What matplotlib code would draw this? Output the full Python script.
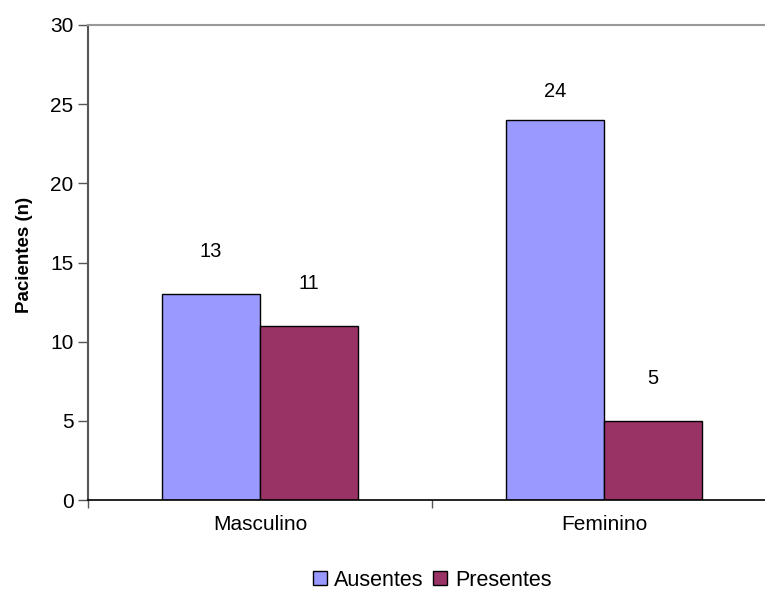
import numpy as np
import matplotlib
matplotlib.use("Agg")
from matplotlib import pyplot as plt

plt.rcParams['font.family'] = ['Liberation Sans', 'DejaVu Sans']

categorias = ['Masculino', 'Feminino']
ausentes = [13, 24]
presentes = [11, 5]
y_ticks = [0, 5, 10, 15, 20, 25, 30]

fig = plt.figure(figsize=(7.65, 5.99), dpi=100)
ax = fig.add_axes([88 / 765, 99 / 599, 688 / 765, 475 / 599])

x = np.arange(len(categorias))
w = 0.285
b1 = ax.bar(x - w / 2, ausentes, w, color='#9999FF', edgecolor='black', lw=1, label='Ausentes')
b2 = ax.bar(x + w / 2, presentes, w, color='#993366', edgecolor='black', lw=1, label='Presentes')

# etiquetas de valor sobre cada barra
for bars, vals in ((b1, ausentes), (b2, presentes)):
    for rect, v in zip(bars, vals):
        ax.text(rect.get_x() + rect.get_width() / 2, min(v + 2.7, 25.8), str(v),
                ha='center', va='center', fontsize=14.5)

ax.set_xlim(-0.5, len(categorias) - 0.5)
ax.set_ylim(0, 30)
ax.set_yticks(y_ticks)
ax.tick_params(axis='y', labelsize=15, length=7, width=1, color='#555555', direction='out')
ax.set_xticks(x)
ax.set_xticklabels(categorias, fontsize=15)
ax.tick_params(axis='x', length=0, pad=11)
# marcas entre categorias
ax.set_xticks(np.arange(len(categorias) + 1) - 0.5, minor=True)
ax.tick_params(axis='x', which='minor', length=6, width=1, color='#555555', direction='out')

ax.spines['left'].set_color('#555555')
ax.spines['left'].set_linewidth(1.5)
ax.spines['top'].set_color('#999999')
ax.spines['top'].set_linewidth(1.5)
ax.spines['right'].set_visible(False)
ax.spines['bottom'].set_color('black')
ax.spines['bottom'].set_linewidth(1.2)

ax.set_ylabel('Pacientes (n)', fontsize=13.5, fontweight='bold')
ax.yaxis.set_label_coords(-0.08, 0.515)

fig.legend(handles=[b1, b2], loc='center', bbox_to_anchor=(432 / 765, 1 - 580 / 599),
           ncol=2, frameon=False, fontsize=15.5, handlelength=0.65, handleheight=0.65,
           handletextpad=0.35, columnspacing=0.45)

fig.savefig('out.png', dpi=100)
